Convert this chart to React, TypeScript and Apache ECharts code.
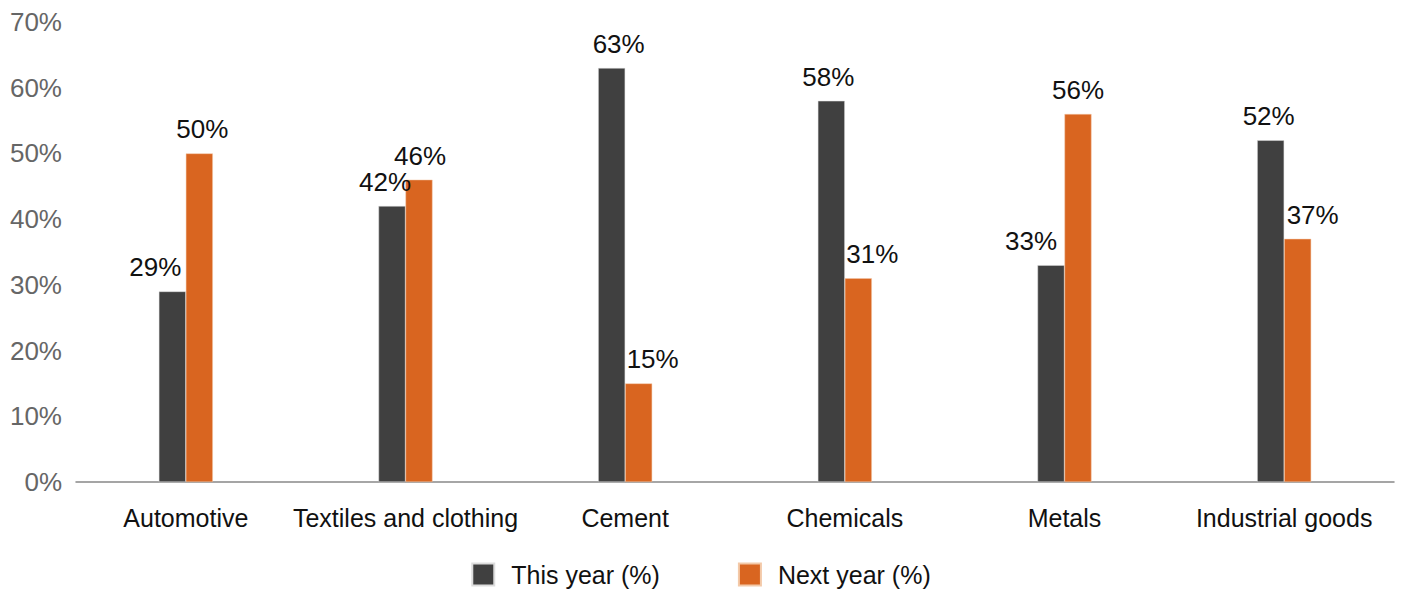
import React, { useEffect, useRef } from "react";
import * as echarts from "echarts";

const categories = ["Automotive", "Textiles and clothing", "Cement", "Chemicals", "Metals", "Industrial goods"];
const thisYear = [29, 42, 63, 58, 33, 52];
const nextYear = [50, 46, 15, 31, 56, 37];
const yTicks = [0, 10, 20, 30, 40, 50, 60, 70];
const seriesNames = ["This year (%)", "Next year (%)"];

// horizontal label nudges (px), mimicking the reference's label placement
const thisYearLabelShift = [-17, -7, 7, -3, -20, -2];
const nextYearLabelShift = [3, 1, 14, 14, 0, 15];

const FONT = "'Liberation Sans', Arial, Helvetica, sans-serif";

export default function App() {
  const ref = useRef<HTMLDivElement>(null);
  useEffect(() => {
    if (!ref.current) return;
    const chart = echarts.init(ref.current, null, { renderer: "svg" });
    const mk = (vals: number[], shifts: number[]) =>
      vals.map((v, i) => ({ value: v, label: { offset: [shifts[i], 0] } }));
    const labelCfg = { show: true, position: "top", distance: 11, formatter: "{c}%", fontSize: 26, color: "#111", fontFamily: FONT };
    chart.setOption({
      animation: false,
      textStyle: { fontFamily: FONT },
      grid: { left: 76, right: 8, top: 22, bottom: 110, containLabel: false },
      legend: {
        bottom: 0,
        left: "center",
        itemWidth: 22,
        itemHeight: 22,
        itemGap: 78,
        icon: "rect",
        data: seriesNames,
        textStyle: { fontSize: 25, color: "#111", fontFamily: FONT, padding: [0, 0, 0, 12] },
      },
      xAxis: {
        type: "category",
        data: categories,
        axisLine: { lineStyle: { color: "#888", width: 1.5 } },
        axisTick: { show: false },
        axisLabel: { interval: 0, fontSize: 25, color: "#111", margin: 23, fontFamily: FONT },
      },
      yAxis: {
        type: "value",
        min: yTicks[0],
        max: yTicks[yTicks.length - 1],
        interval: 10,
        splitLine: { show: false },
        axisLine: { show: false },
        axisTick: { show: false },
        axisLabel: { fontSize: 26, color: "#666", margin: 14, formatter: "{value}%", fontFamily: FONT },
      },
      series: [
        {
          name: seriesNames[0],
          type: "bar",
          data: mk(thisYear, thisYearLabelShift),
          barWidth: 27,
          barGap: "0%",
          itemStyle: { color: "#404040", borderColor: "#ddd", borderWidth: 0.5 },
          label: labelCfg,
        },
        {
          name: seriesNames[1],
          type: "bar",
          data: mk(nextYear, nextYearLabelShift),
          barWidth: 27,
          barGap: "0%",
          itemStyle: { color: "#D96520", borderColor: "#f3c9a8", borderWidth: 0.5 },
          label: labelCfg,
        },
      ],
    });
    return () => chart.dispose();
  }, []);
  return <div ref={ref} style={{ width: 1402, height: 592, position: "absolute", left: 0, top: 0 }} />;
}
